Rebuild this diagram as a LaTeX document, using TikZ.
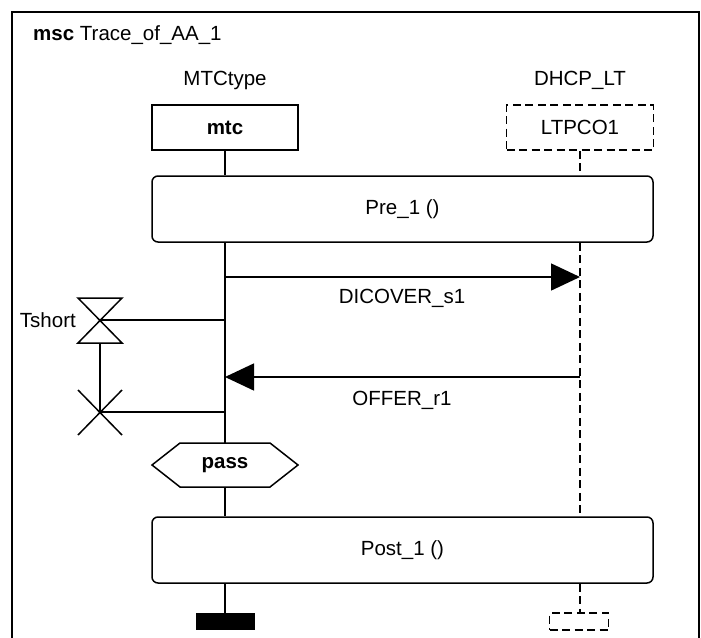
\documentclass[tikz,border=0pt]{standalone}
\usepackage{fontspec}
\setmainfont{Liberation Sans}
\usetikzlibrary{arrows.meta}
\begin{document}
\begin{tikzpicture}[x=1pt,y=-1pt,
  every node/.style={font=\fontsize{20.5}{24}\selectfont, inner sep=0pt},
  ln/.style={line width=1.5pt},
  dln/.style={line width=1.5pt, dash pattern=on 8pt off 4.5pt},
  inst/.style={draw, ln, fill=white, minimum width=146pt, minimum height=45pt},
  instd/.style={draw, dln, fill=white, minimum width=147pt, minimum height=45pt},
  refbox/.style={draw, ln, fill=white, rounded corners=6pt, minimum width=501pt, minimum height=66pt},
  msg/.style={ln, -{Triangle[length=29pt, width=27pt]}},
  endbox/.style={minimum width=59pt, minimum height=17pt}
]
\useasboundingbox (0,0) rectangle (701,637);
\begin{scope}
  \clip (0,0) rectangle (701,637);
  \draw[ln] (12,12) rectangle (699,700);
\end{scope}
\node[anchor=west] (title) at (33,35) {\textbf{msc} Trace\_of\_AA\_1};

% instance heads
\node (mtcname) at (225,80) {MTCtype};
\node[inst] (mtc) at (225,127.5) {\textbf{mtc}};
\node (ltname) at (580,80) {DHCP\_LT};
\node[instd] (ltp) at (580,127.5) {LTPCO1};

% references
\node[refbox] (pre) at (402.5,209) {Pre\_1 ()};
\node[refbox] (post) at (402.5,550) {Post\_1 ()};

% condition
\draw[ln] (152,465) -- (180,443) -- (270,443) -- (298,465) -- (270,487) -- (180,487) -- cycle;
\node (pass) at (225,465) {\textbf{pass}};

% instance ends
\node[endbox, fill=black] (mtcend) at (225,621.5) {};
\node[endbox, draw, dln] (ltpend) at (579,621.5) {};

% lifeline points
\coordinate (m1) at (mtc.south |- pre.south);
\coordinate (l1) at (ltp.south |- pre.south);
\coordinate (mS) at (mtc.south |- 0,277);
\coordinate (lS) at (ltp.south |- 0,277);
\coordinate (mR) at (mtc.south |- 0,377);
\coordinate (lR) at (ltp.south |- 0,377);
\coordinate (mT1) at (mtc.south |- 0,320);
\coordinate (mT2) at (mtc.south |- 0,412);
\coordinate (passN) at (225,443);
\coordinate (passS) at (225,487);

% lifelines
\draw[ln] (mtc.south) -- (pre.north -| mtc.south);
\draw[ln] (m1) -- (passN);
\draw[ln] (passS) -- (post.north -| mtc.south);
\draw[ln] (post.south -| mtc.south) -- (mtcend.north);
\draw[dln] (ltp.south) -- (pre.north -| ltp.south);
\draw[dln] (l1) -- (post.north -| ltp.south);
\draw[dln] (post.south -| ltp.south) -- (ltpend.north -| ltp.south);

% messages
\draw[msg] (mS) -- (lS);
\node (s1) at (402,298) {DICOVER\_s1};
\draw[msg] (lR) -- (mR);
\node (r1) at (402,400) {OFFER\_r1};

% timer start and timeout
\coordinate (ts) at (100,320);
\coordinate (te) at (100,412);
\draw[ln] (78,298) -- (122,298) -- (78,343) -- (122,343) -- cycle;
\node[anchor=east] (tname) at (76,320) {Tshort};
\draw[ln] (ts) -- (mT1);
\draw[ln] (100,343) -- (te);
\draw[ln] (78,390) -- (122,435) (78,435) -- (122,390);
\draw[ln] (te) -- (mT2);
\end{tikzpicture}
\end{document}
